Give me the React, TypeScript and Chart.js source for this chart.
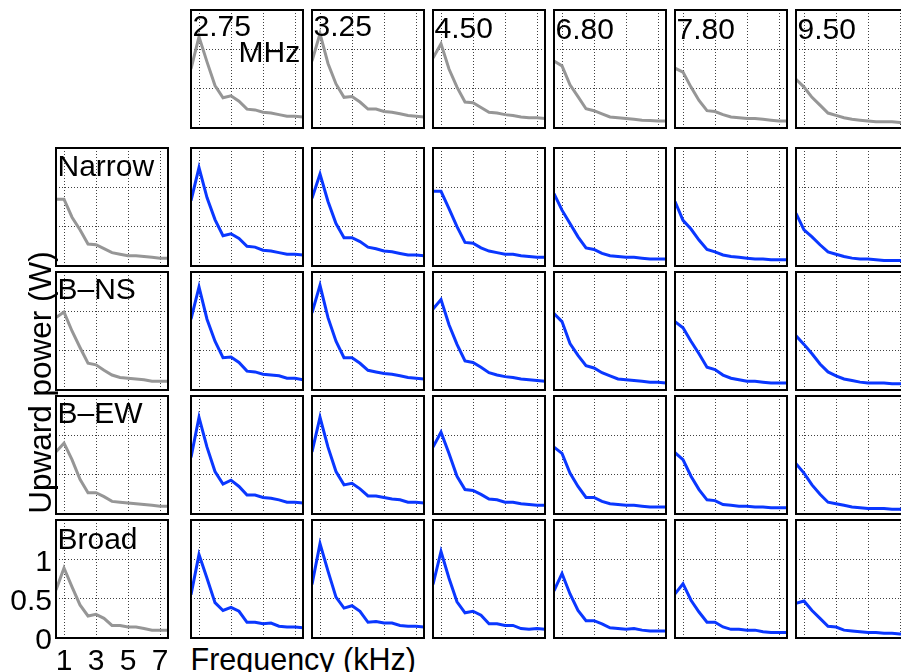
import React, { useEffect, useRef } from 'react';
import { Chart, registerables } from 'chart.js';

Chart.register(...registerables);

// ---------- data ----------
const FREQ_KHZ = [0.5, 1, 1.5, 2, 2.5, 3, 3.5, 4, 4.5, 5, 5.5, 6, 6.5, 7, 7.5];
const X_TICKS = [1, 3, 5, 7];
const Y_TICKS = [0, 0.5, 1];
const Y_TICK_LABELS = ['0', '0.5', '1'];
const MHZ_LABELS = ['2.75', '3.25', '4.50', '6.80', '7.80', '9.50'];
const BEAM_LABELS = ['Narrow', 'B–NS', 'B–EW', 'Broad'];

// top row: all beams, per transmit frequency (gray)
const ALL_275 = [0.75, 1.16, 0.84, 0.54, 0.385, 0.41, 0.34, 0.24, 0.23, 0.2, 0.19, 0.17, 0.15, 0.15, 0.14];
const ALL_325 = [0.85, 1.2, 0.82, 0.56, 0.39, 0.4, 0.33, 0.24, 0.24, 0.21, 0.2, 0.18, 0.16, 0.15, 0.14];
const ALL_450 = [0.89, 1.07, 0.75, 0.52, 0.33, 0.32, 0.26, 0.2, 0.19, 0.17, 0.16, 0.14, 0.13, 0.13, 0.12];
const ALL_680 = [0.85, 0.79, 0.55, 0.4, 0.245, 0.22, 0.18, 0.14, 0.13, 0.12, 0.11, 0.1, 0.095, 0.09, 0.09];
const ALL_780 = [0.76, 0.71, 0.52, 0.35, 0.22, 0.21, 0.17, 0.14, 0.13, 0.12, 0.12, 0.11, 0.1, 0.09, 0.09];
const ALL_950 = [0.62, 0.52, 0.39, 0.29, 0.19, 0.16, 0.13, 0.11, 0.1, 0.09, 0.08, 0.08, 0.08, 0.07, 0.07];

// left column: all frequencies, per beam (gray)
const NARROW_ALL = [0.85, 0.85, 0.62, 0.46, 0.28, 0.27, 0.22, 0.17, 0.15, 0.13, 0.13, 0.12, 0.11, 0.1, 0.1];
const BNS_ALL = [0.92, 0.99, 0.75, 0.54, 0.34, 0.32, 0.25, 0.19, 0.16, 0.15, 0.14, 0.13, 0.11, 0.11, 0.11];
const BEW_ALL = [0.79, 0.9, 0.69, 0.44, 0.27, 0.27, 0.22, 0.16, 0.15, 0.14, 0.13, 0.12, 0.11, 0.1, 0.1];
const BROAD_ALL = [0.61, 0.89, 0.65, 0.42, 0.28, 0.3, 0.25, 0.16, 0.16, 0.14, 0.14, 0.12, 0.1, 0.1, 0.1];

// Narrow beam (blue)
const NARROW_275 = [0.83, 1.25, 0.87, 0.59, 0.385, 0.41, 0.35, 0.25, 0.24, 0.2, 0.19, 0.17, 0.15, 0.15, 0.14];
const NARROW_325 = [0.86, 1.17, 0.82, 0.54, 0.36, 0.36, 0.31, 0.24, 0.22, 0.19, 0.18, 0.16, 0.14, 0.14, 0.13];
const NARROW_450 = [0.95, 0.95, 0.73, 0.5, 0.3, 0.29, 0.23, 0.19, 0.17, 0.15, 0.15, 0.13, 0.12, 0.11, 0.11];
const NARROW_680 = [0.92, 0.71, 0.54, 0.37, 0.23, 0.21, 0.16, 0.13, 0.12, 0.11, 0.11, 0.1, 0.09, 0.09, 0.09];
const NARROW_780 = [0.82, 0.58, 0.47, 0.33, 0.21, 0.18, 0.14, 0.12, 0.11, 0.1, 0.09, 0.09, 0.08, 0.08, 0.08];
const NARROW_950 = [0.67, 0.46, 0.37, 0.27, 0.18, 0.15, 0.12, 0.1, 0.09, 0.09, 0.08, 0.07, 0.07, 0.07, 0.07];

// B-NS beam (blue)
const BNS_275 = [0.9, 1.31, 0.9, 0.62, 0.41, 0.42, 0.35, 0.24, 0.23, 0.2, 0.19, 0.18, 0.15, 0.15, 0.13];
const BNS_325 = [0.98, 1.33, 0.92, 0.62, 0.41, 0.41, 0.34, 0.25, 0.23, 0.21, 0.2, 0.18, 0.16, 0.15, 0.14];
const BNS_450 = [1.03, 1.15, 0.83, 0.58, 0.37, 0.35, 0.29, 0.22, 0.19, 0.17, 0.16, 0.14, 0.13, 0.12, 0.11];
const BNS_680 = [0.97, 0.87, 0.59, 0.44, 0.31, 0.28, 0.22, 0.18, 0.14, 0.13, 0.12, 0.11, 0.1, 0.1, 0.09];
const BNS_780 = [0.87, 0.79, 0.62, 0.46, 0.29, 0.26, 0.19, 0.15, 0.13, 0.11, 0.11, 0.1, 0.09, 0.09, 0.09];
const BNS_950 = [0.69, 0.58, 0.46, 0.33, 0.23, 0.18, 0.14, 0.12, 0.1, 0.09, 0.09, 0.09, 0.08, 0.08, 0.08];

// B-EW beam (blue)
const BEW_275 = [0.72, 1.23, 0.85, 0.54, 0.38, 0.43, 0.35, 0.24, 0.24, 0.21, 0.2, 0.18, 0.15, 0.15, 0.14];
const BEW_325 = [0.79, 1.23, 0.85, 0.54, 0.37, 0.39, 0.32, 0.23, 0.23, 0.21, 0.19, 0.18, 0.15, 0.15, 0.14];
const BEW_450 = [0.85, 1.04, 0.77, 0.48, 0.31, 0.3, 0.25, 0.19, 0.18, 0.15, 0.15, 0.13, 0.12, 0.11, 0.11];
const BEW_680 = [0.85, 0.77, 0.52, 0.35, 0.21, 0.21, 0.16, 0.13, 0.12, 0.11, 0.11, 0.1, 0.09, 0.09, 0.09];
const BEW_780 = [0.78, 0.69, 0.48, 0.31, 0.18, 0.17, 0.12, 0.11, 0.1, 0.1, 0.09, 0.09, 0.08, 0.08, 0.08];
const BEW_950 = [0.64, 0.52, 0.37, 0.25, 0.15, 0.13, 0.11, 0.09, 0.08, 0.07, 0.07, 0.07, 0.06, 0.06, 0.06];

// Broad beam (blue)
const BROAD_275 = [0.55, 1.06, 0.76, 0.45, 0.35, 0.39, 0.34, 0.2, 0.2, 0.18, 0.19, 0.15, 0.14, 0.14, 0.13];
const BROAD_325 = [0.68, 1.2, 0.85, 0.52, 0.38, 0.41, 0.34, 0.2, 0.21, 0.19, 0.19, 0.16, 0.15, 0.15, 0.14];
const BROAD_450 = [0.68, 1.1, 0.76, 0.46, 0.32, 0.34, 0.29, 0.18, 0.18, 0.16, 0.16, 0.12, 0.11, 0.12, 0.11];
const BROAD_680 = [0.6, 0.82, 0.56, 0.35, 0.22, 0.22, 0.18, 0.13, 0.12, 0.11, 0.12, 0.1, 0.09, 0.09, 0.09];
const BROAD_780 = [0.56, 0.69, 0.48, 0.33, 0.2, 0.2, 0.14, 0.11, 0.11, 0.1, 0.1, 0.08, 0.07, 0.07, 0.07];
const BROAD_950 = [0.44, 0.47, 0.35, 0.25, 0.15, 0.14, 0.1, 0.09, 0.08, 0.07, 0.07, 0.06, 0.06, 0.05, 0.05];

const TOP_ROW = [ALL_275, ALL_325, ALL_450, ALL_680, ALL_780, ALL_950];
const LEFT_COL = [NARROW_ALL, BNS_ALL, BEW_ALL, BROAD_ALL];
const GRID_ROWS = [
  [NARROW_275, NARROW_325, NARROW_450, NARROW_680, NARROW_780, NARROW_950],
  [BNS_275, BNS_325, BNS_450, BNS_680, BNS_780, BNS_950],
  [BEW_275, BEW_325, BEW_450, BEW_680, BEW_780, BEW_950],
  [BROAD_275, BROAD_325, BROAD_450, BROAD_680, BROAD_780, BROAD_950],
];

// ---------- layout / style ----------
const FONT = '"Liberation Sans", Arial, Helvetica, sans-serif';
const GRAY = 'rgb(150,150,150)';
const BLUE = 'rgb(10,55,255)';
const GRID_COLOR = 'rgba(0,0,0,0.75)';
const PANEL_W = 112;
const PANEL_H = 118;
const LEFT_X = 56;
const COL_X = [191, 312, 433, 554, 675, 796];
const TOP_Y = 10;
const ROW_Y = [148, 272, 396, 520];
const PAD = 3;

const boxPlugin = {
  id: 'panelBox',
  afterDraw(chart: any) {
    const { ctx, chartArea: a } = chart;
    ctx.save();
    ctx.strokeStyle = '#000';
    ctx.lineWidth = 2;
    ctx.strokeRect(a.left, a.top, a.right - a.left, a.bottom - a.top);
    ctx.restore();
  },
};

const noScalePadding = (s: any) => {
  s.paddingTop = 0;
  s.paddingBottom = 0;
  s.paddingLeft = 0;
  s.paddingRight = 0;
};

type PanelProps = { left: number; top: number; values: number[]; color: string; withAxes?: boolean };

function Panel({ left, top, values, color, withAxes }: PanelProps) {
  const ref = useRef<HTMLCanvasElement>(null);
  const cLeft = withAxes ? 0 : left - PAD;
  const cTop = top - PAD;
  const cW = withAxes ? left + PANEL_W + PAD : PANEL_W + 2 * PAD;
  const cH = withAxes ? 672 - cTop : PANEL_H + 2 * PAD;
  const axisLeft = withAxes ? left : 0;
  const axisBottom = withAxes ? cH - PAD - PANEL_H : 0;

  useEffect(() => {
    const tickFont = { family: FONT, size: 30 };
    const chart = new Chart(ref.current as HTMLCanvasElement, {
      type: 'line',
      data: {
        datasets: [
          {
            data: FREQ_KHZ.map((x, i) => ({ x, y: values[i] })),
            borderColor: color,
            borderWidth: 3,
            pointRadius: 0,
            tension: 0,
            fill: false,
          },
        ],
      },
      options: {
        animation: false,
        responsive: false,
        maintainAspectRatio: false,
        devicePixelRatio: 1,
        events: [],
        layout: {
          padding: withAxes ? { left: 0, top: PAD, right: PAD, bottom: 0 } : PAD,
        },
        plugins: { legend: { display: false }, tooltip: { enabled: false } },
        scales: {
          x: {
            type: 'linear',
            min: 0.5,
            max: 7.5,
            afterBuildTicks: (s: any) => {
              s.ticks = X_TICKS.map((v) => ({ value: v }));
            },
            afterFit: (s: any) => {
              s.height = axisBottom;
              noScalePadding(s);
            },
            grid: { color: GRID_COLOR, lineWidth: 1, drawTicks: false },
            border: { display: false, dash: [1, 2] },
            ticks: {
              display: !!withAxes,
              font: tickFont,
              color: '#000',
              padding: 6,
              maxRotation: 0,
              autoSkip: false,
              callback: (v: any) => String(v),
            },
          },
          y: {
            type: 'linear',
            min: 0,
            max: 1.5,
            afterBuildTicks: (s: any) => {
              s.ticks = Y_TICKS.map((v) => ({ value: v }));
            },
            afterFit: (s: any) => {
              s.width = axisLeft;
              noScalePadding(s);
            },
            grid: { color: GRID_COLOR, lineWidth: 1, drawTicks: false },
            border: { display: false, dash: [1, 2] },
            ticks: {
              display: !!withAxes,
              font: tickFont,
              color: '#000',
              padding: 4,
              labelOffset: 3,
              autoSkip: false,
              callback: (v: any) => {
                const i = Y_TICKS.indexOf(Number(v));
                return i >= 0 ? Y_TICK_LABELS[i] : '';
              },
            },
          },
        },
      } as any,
      plugins: [boxPlugin],
    });
    return () => chart.destroy();
  }, []);

  return (
    <canvas
      ref={ref}
      width={cW}
      height={cH}
      style={{ position: 'absolute', left: cLeft, top: cTop, width: cW, height: cH }}
    />
  );
}

function Label({ text, left, capTop, size = 30 }: { text: string; left: number; capTop: number; size?: number }) {
  return (
    <div
      style={{
        position: 'absolute',
        left,
        top: capTop - 0.13 * size,
        fontSize: size,
        lineHeight: `${size}px`,
        whiteSpace: 'nowrap',
        color: '#000',
        fontFamily: FONT,
      }}
    >
      {text}
    </div>
  );
}

const TOP_CAP = [15, 15, 16.5, 18, 18, 18];
const LEFT_CAP = [155, 277.5, 402, 528];

export default function App() {
  return (
    <div
      style={{
        position: 'absolute',
        left: 0,
        top: 0,
        width: 901,
        height: 672,
        overflow: 'hidden',
        background: '#fff',
        fontFamily: FONT,
      }}
    >
      {TOP_ROW.map((vals, c) => (
        <Panel key={'t' + c} left={COL_X[c]} top={TOP_Y} values={vals} color={GRAY} />
      ))}
      {LEFT_COL.map((vals, r) => (
        <Panel key={'l' + r} left={LEFT_X} top={ROW_Y[r]} values={vals} color={GRAY} withAxes={r === 3} />
      ))}
      {GRID_ROWS.map((row, r) =>
        row.map((vals, c) => (
          <Panel key={'g' + r + '-' + c} left={COL_X[c]} top={ROW_Y[r]} values={vals} color={BLUE} />
        ))
      )}
      {MHZ_LABELS.map((t, c) => (
        <Label key={'m' + c} text={t} left={COL_X[c] + 1.5} capTop={TOP_CAP[c]} size={30} />
      ))}
      <Label text="MHz" left={238.5} capTop={40.5} size={30} />
      {BEAM_LABELS.map((t, r) => (
        <Label key={'b' + r} text={t} left={57.5} capTop={LEFT_CAP[r]} size={30} />
      ))}
      <Label text="Frequency (kHz)" left={190.5} capTop={648} size={30.5} />
      <div
        style={{
          position: 'absolute',
          left: 39.5 - 200,
          top: 382 - 15.5,
          width: 400,
          height: 31,
          fontSize: 31.5,
          lineHeight: '31px',
          textAlign: 'center',
          whiteSpace: 'nowrap',
          transform: 'rotate(-90deg)',
          transformOrigin: '50% 50%',
          fontFamily: FONT,
          color: '#000',
        }}
      >
        Upward power (W)
      </div>
    </div>
  );
}
